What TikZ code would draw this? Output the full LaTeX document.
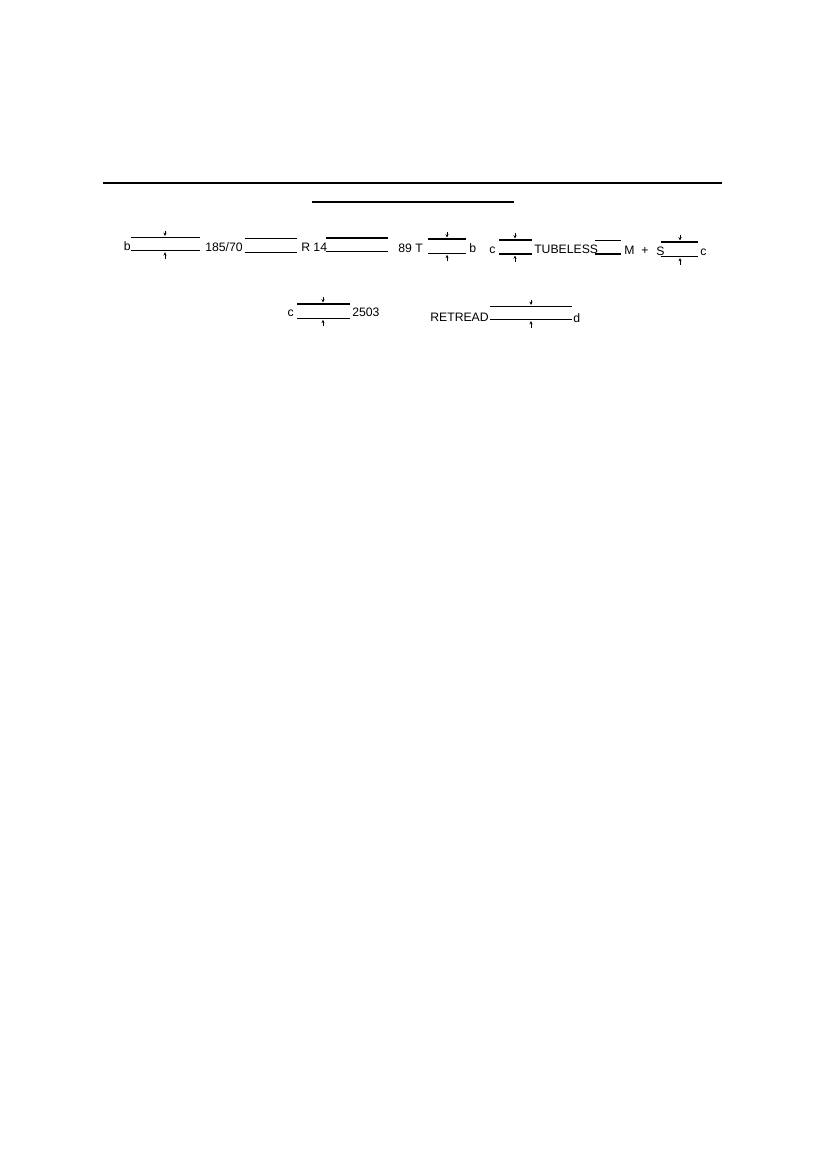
\documentclass[tikz,border=0pt]{standalone}
\usepackage{fontspec}
\setmainfont{Liberation Sans}
\usetikzlibrary{arrows.meta}
\newcommand{\fillblank}[5]{% name, x1, x2, ytop, ybot
  \coordinate (#1tl) at (#2,#4); \coordinate (#1tr) at (#3,#4);
  \coordinate (#1bl) at (#2,#5); \coordinate (#1br) at (#3,#5);
  \draw[blankline] (#1tl) -- (#1tr);
  \draw[blankline] (#1bl) -- (#1br);}
\newcommand{\gapmarks}[4]{% name, x, ytop, ybot
  \coordinate (#1da) at (#2,#3-7); \coordinate (#1db) at (#2,#3-1.5);
  \coordinate (#1ua) at (#2,#4+8); \coordinate (#1ub) at (#2,#4+1.5);
  \draw[marker] (#1da) -- (#1db);
  \draw[marker] (#1ua) -- (#1ub);}
\begin{document}
\begin{tikzpicture}[x=0.72pt,y=-0.72pt,
  lbl/.style={inner sep=0pt,font=\fontsize{8.8}{10}\selectfont},
  blankline/.style={line width=0.8pt},
  rulethick/.style={line width=1.4pt},
  rulethin/.style={line width=1.1pt},
  marker/.style={line width=0.5pt,-{Stealth[length=2.4pt,width=2.2pt]}}]
\useasboundingbox (0,0) rectangle (826,1169);
% rules
\coordinate (r1a) at (103,183); \coordinate (r1b) at (722,183);
\draw[rulethick] (r1a) -- (r1b);
\coordinate (r2a) at (312,202); \coordinate (r2b) at (514,202);
\draw[rulethin] (r2a) -- (r2b);
% row 1
\node[lbl,anchor=base east] (t1) at (131,250.5) {b};
\fillblank{ba}{131}{200}{237.5}{250.7}
\gapmarks{ma}{165}{237.5}{250.7}
\node[lbl,anchor=base west] (t2) at (205,251) {185/70};
\fillblank{bb}{245}{297}{238.3}{252.3}
\node[lbl,anchor=base west] (t3) at (301,251.5) {R 14};
\fillblank{bc}{326}{388}{238}{251.7}
\node[lbl,anchor=base west] (t4) at (398,252) {89 T};
\fillblank{bd}{428}{466}{239}{253.3}
\gapmarks{md}{447}{239}{253.3}
\node[lbl,anchor=base west] (t5) at (469,252.5) {b};
\node[lbl,anchor=base west] (t6) at (489,253) {c};
\fillblank{be}{499}{532}{240}{254}
\gapmarks{me}{515}{240}{254}
\node[lbl,anchor=base west] (t7) at (534,253.5) {TUBELESS};
\fillblank{bf}{595}{621}{240.5}{254}
\node[lbl,anchor=base west] (t8) at (624,254) {M};
\node[lbl,anchor=base] (t9) at (645,254) {+};
\node[lbl,anchor=base west] (t10) at (656,255) {S};
\fillblank{bg}{661}{698}{242}{256.5}
\gapmarks{mg}{680}{242}{256.5}
\node[lbl,anchor=base west] (t11) at (700,255.5) {c};
% row 2
\node[lbl,anchor=base east] (t12) at (294,316.5) {c};
\fillblank{bh}{297}{350}{304}{318.3}
\gapmarks{mh}{323}{304}{318.3}
\node[lbl,anchor=base west] (t13) at (352,316.5) {2503};
\node[lbl,anchor=base east] (t14) at (489,321.5) {RETREAD};
\fillblank{bi}{490}{572}{306.5}{319.5}
\gapmarks{mi}{531}{306.5}{319.5}
\node[lbl,anchor=base west] (t15) at (573,322) {d};
\end{tikzpicture}
\end{document}
